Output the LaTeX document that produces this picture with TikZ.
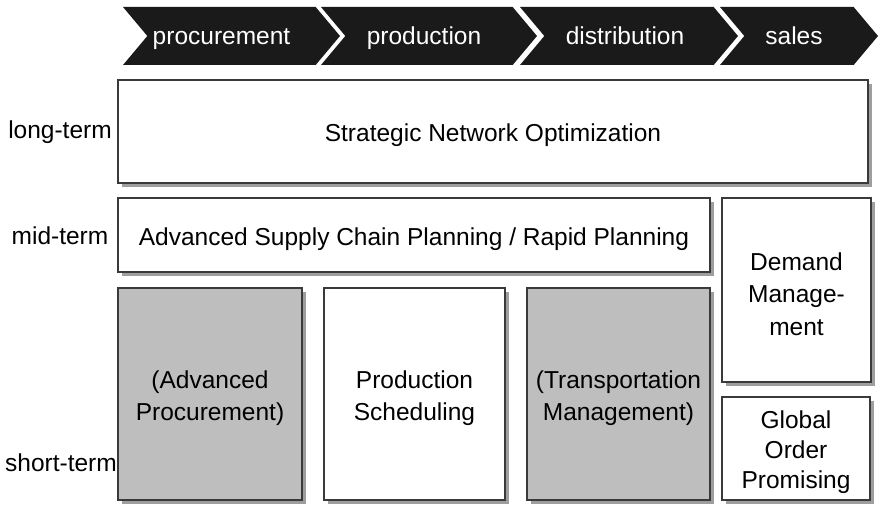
\documentclass[tikz,border=0pt]{standalone}
\usepackage{fontspec}
\setmainfont{Liberation Sans}
\usepackage{tikz}
\usetikzlibrary{shapes.symbols, shadows, positioning}
\definecolor{chevfill}{HTML}{1A1A1A}
\definecolor{boxline}{HTML}{3A3A3A}
\definecolor{boxgray}{HTML}{BEBEBE}

\begin{document}
\begin{tikzpicture}[
  x=1pt, y=-1pt,
  every node/.style={align=center, font=\fontsize{24.5}{32.5}\selectfont},
  phase/.style={
    signal, signal from=west, signal to=east, signal pointer angle=100,
    fill=chevfill, inner sep=0pt, minimum height=58pt
  },
  phasetext/.style={text=white, inner sep=0pt, text height=18pt, text depth=0pt},
  plan/.style={
    rectangle, draw=boxline, line width=1.3pt, fill=white, inner sep=0pt,
    drop shadow={shadow xshift=4pt, shadow yshift=-4pt, fill=black!38, opacity=1}
  },
  plangray/.style={plan, fill=boxgray},
  plantext/.style={inner sep=0pt, yshift=-4pt},
  horizon/.style={inner sep=0pt}
]
\useasboundingbox (0,0) rectangle (879,505);

% value chain
\node[phase, minimum width=217pt, label={[phasetext, xshift=-10pt]center:procurement}] (procure) at (231.5, 36) {};
\node[phase, minimum width=216pt, label={[phasetext, xshift=-5pt]center:production}]   (produce) at (429, 36)   {};
\node[phase, minimum width=218pt, label={[phasetext, xshift=-4pt]center:distribution}] (distrib) at (629, 36)   {};
\node[phase, minimum width=158pt, label={[phasetext, xshift=-5pt]center:sales}]        (sales)   at (799, 36)   {};

% planning modules
\node[plan, minimum width=750pt, minimum height=103pt, label={[plantext]center:Strategic Network Optimization}] (snp) at (493, 131.5) {};
\node[plan, minimum width=592pt, minimum height=74pt, label={[plantext]center:Advanced Supply Chain Planning / Rapid Planning}] (ascp) at (414, 235) {};
\node[plan, minimum width=149pt, minimum height=184pt, label={[plantext]center:{Demand\\Manage-\\ment}}] (dm) at (796.5, 290) {};
\node[plan, minimum width=148pt, minimum height=103pt, label={[plantext, font=\fontsize{24.5}{30}\selectfont]center:{Global\\Order\\Promising}}] (gop) at (796, 448.5) {};
\node[plangray, minimum width=184pt, minimum height=212pt, label={[plantext]center:{(Advanced\\Procurement)}}] (ap) at (210, 394) {};
\node[plan, minimum width=181pt, minimum height=212pt, label={[plantext]center:{Production\\Scheduling}}] (ps) at (414.5, 394) {};
\node[plangray, minimum width=183pt, minimum height=212pt, label={[plantext]center:{(Transportation\\Management)}}] (tm) at (618.5, 394) {};

% planning horizons
\node[horizon] (long)  at (60, 132) {long-term};
\node[horizon] (mid)   at (60, 236) {mid-term};
\node[horizon] (short) at (61, 463) {short-term};
\end{tikzpicture}
\end{document}
